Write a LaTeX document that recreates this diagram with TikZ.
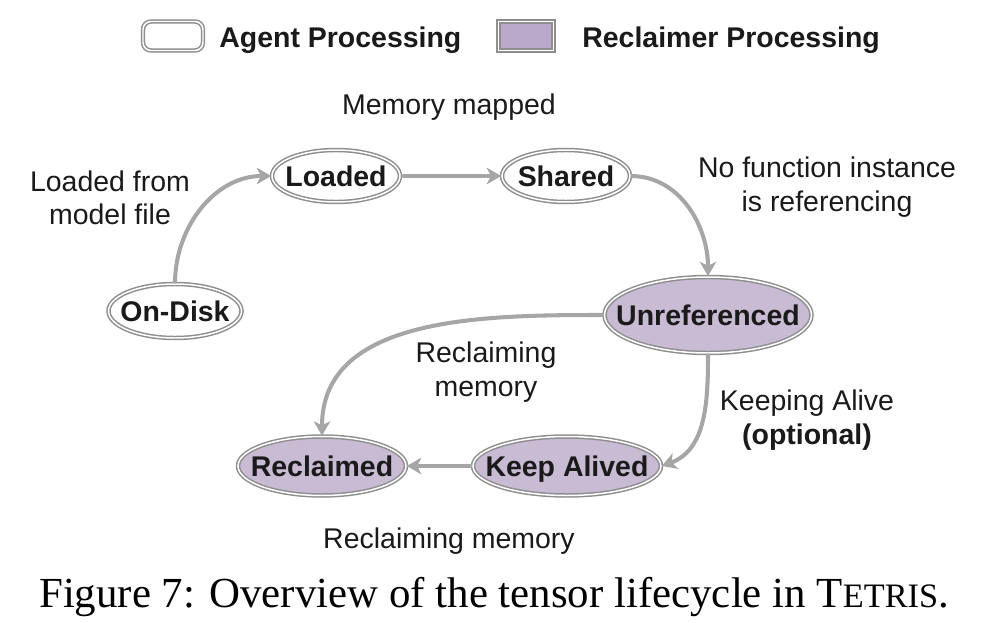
\documentclass[tikz,border=0pt]{standalone}
\usepackage{fontspec}
\setmainfont{Liberation Serif}
\setsansfont{Liberation Sans}
\usetikzlibrary{arrows.meta,shapes.geometric}
\definecolor{edgegray}{HTML}{A6A6A6}
\definecolor{rimgray}{HTML}{8E8E8E}
\definecolor{reclaimfill}{HTML}{C8BBD3}
\definecolor{legendfill}{HTML}{BBA9CB}
\definecolor{inkblack}{HTML}{1A1A1A}
\newcommand{\lblfont}{\sffamily\fontsize{16.2}{19}\selectfont}
\tikzset{
  rim/.style={draw=rimgray, double=white, line width=0.85pt, double distance=0.85pt},
  capmid/.style={text height=11.6pt, text depth=0pt},
  state/.style={ellipse, rim, inner sep=0pt,
    label={[font=\lblfont\bfseries, text=inkblack, inner sep=0pt, capmid]center:#1}},
  agent/.style={state={#1}, fill=white},
  reclaimer/.style={state={#1}, fill=reclaimfill},
  flow/.style={draw=edgegray, line width=2.3pt,
    -{Stealth[length=2.9mm,width=3.3mm,inset=0.8mm]}},
  note/.style={font=\lblfont, text=inkblack, align=center, inner sep=0pt},
}

\begin{document}
\begin{tikzpicture}[x=0.2mm,y=-0.2mm]
  \useasboundingbox (0,0) rectangle (987,623);
  % legend
  \node[rim, fill=white, rounded corners=1.6mm, minimum width=12mm,
    minimum height=5.8mm, inner sep=0pt] (keyagent) at (173,36) {};
  \node[note, font=\lblfont\bfseries, capmid, anchor=west] (keyagenttxt) at (219,37) {Agent Processing};
  \node[rim, fill=legendfill, minimum width=11mm, minimum height=5.8mm,
    inner sep=0pt] (keyrecl) at (526,36) {};
  \node[note, font=\lblfont\bfseries, capmid, anchor=west] (keyrecltxt) at (582,37) {Reclaimer Processing};
  % states
  \node[agent=Loaded, minimum width=25.6mm, minimum height=10.4mm] (loaded) at (336,176) {};
  \node[agent=Shared, minimum width=25.6mm, minimum height=10.4mm] (shared) at (566,176) {};
  \node[agent=On-Disk, minimum width=26.6mm, minimum height=10.8mm] (ondisk) at (175,311) {};
  \node[reclaimer=Unreferenced, minimum width=41.4mm, minimum height=15.2mm] (unref) at (708,315) {};
  \node[reclaimer=Reclaimed, minimum width=33.6mm, minimum height=11.8mm] (reclaimed) at (322,466) {};
  \node[reclaimer=Keep Alived, minimum width=37.6mm, minimum height=11.8mm] (keep) at (567,466) {};
  % transitions
  \draw[flow] (ondisk.north) to[out=90,in=180] (loaded.west);
  \draw[flow] (loaded) -- (shared);
  \draw[flow] (shared.east) to[out=0,in=90] (unref.north);
  \draw[flow] (unref.west) to[out=180,in=90] (reclaimed.north);
  \draw[flow] (unref.south) to[out=-90,in=20] (keep.east);
  \draw[flow] (keep) -- (reclaimed);
  % labels
  \node[note] (lblmap) at (449,107) {Memory mapped};
  \node[note] (lblload) at (110,198) {Loaded from\\model file};
  \node[note] (lblref) at (827,187) {No function instance\\is referencing};
  \node[note] (lblrec) at (486,372) {Reclaiming\\memory};
  \node[note] (lblkeep) at (807,420) {Keeping Alive\\\textbf{(optional)}};
  \node[note] (lblrec2) at (449,541) {Reclaiming memory};
  % caption
  \node[inner sep=0pt] (caption) at (494,597)
    {\fontsize{24.4}{28}\selectfont Figure 7: Overview of the tensor lifecycle in
     T{\fontsize{19.5}{20}\selectfont ETRIS}.};
\end{tikzpicture}
\end{document}
